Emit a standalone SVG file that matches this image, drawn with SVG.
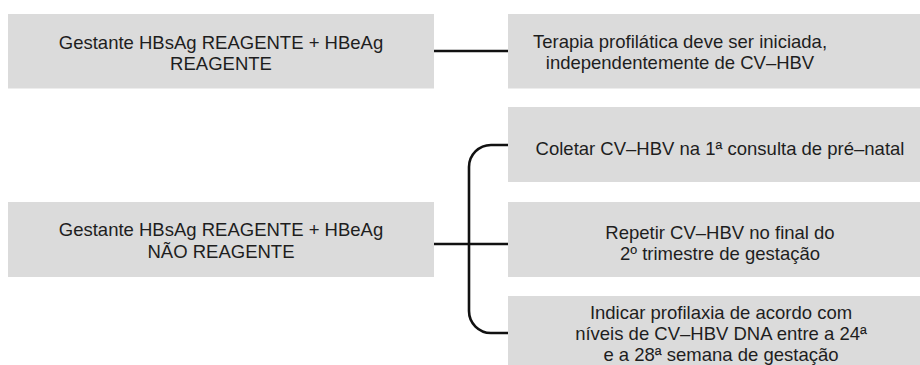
<svg xmlns="http://www.w3.org/2000/svg" width="920" height="365" viewBox="0 0 920 365">
<style>
.box{fill:#dbdbdb}
.t{font-family:"Liberation Sans",Arial,sans-serif;font-size:18.5px;fill:#1e1e1e;text-anchor:middle}
.c{fill:none;stroke:#111;stroke-width:2.6}
</style>
<rect width="920" height="365" fill="#fff"/>
<g id="connectors">
<path class="c" d="M434,51 H508"/>
<path class="c" d="M434,244 H508"/>
<path class="c" d="M508,145 H491 A22,22 0 0 0 469,167 V311 A22,22 0 0 0 491,333 H508"/>
</g>
<g id="node-reagente">
<rect class="box" x="8" y="14" width="426" height="74.5"/>
<text class="t" x="221" y="49">Gestante HBsAg REAGENTE + HBeAg</text>
<text class="t" x="221" y="69.5">REAGENTE</text>
</g>
<g id="node-terapia">
<rect class="box" x="508" y="14" width="412" height="74.5"/>
<text class="t" x="680" y="47.5">Terapia profilática deve ser iniciada,</text>
<text class="t" x="680" y="68.5">independentemente de CV–HBV</text>
</g>
<g id="node-nao-reagente">
<rect class="box" x="8" y="202" width="426" height="75"/>
<text class="t" x="221" y="236">Gestante HBsAg REAGENTE + HBeAg</text>
<text class="t" x="221" y="257.5">NÃO REAGENTE</text>
</g>
<g id="node-coletar">
<rect class="box" x="508" y="107" width="412" height="75"/>
<text class="t" x="720" y="155">Coletar CV–HBV na 1ª consulta de pré–natal</text>
</g>
<g id="node-repetir">
<rect class="box" x="508" y="202" width="412" height="75"/>
<text class="t" x="720" y="238.5">Repetir CV–HBV no final do</text>
<text class="t" x="720" y="260">2º trimestre de gestação</text>
</g>
<g id="node-indicar">
<rect class="box" x="508" y="296" width="412" height="75"/>
<text class="t" x="721" y="319">Indicar profilaxia de acordo com</text>
<text class="t" x="721" y="340">níveis de CV–HBV DNA entre a 24ª</text>
<text class="t" x="721" y="361">e a 28ª semana de gestação</text>
</g>
</svg>
